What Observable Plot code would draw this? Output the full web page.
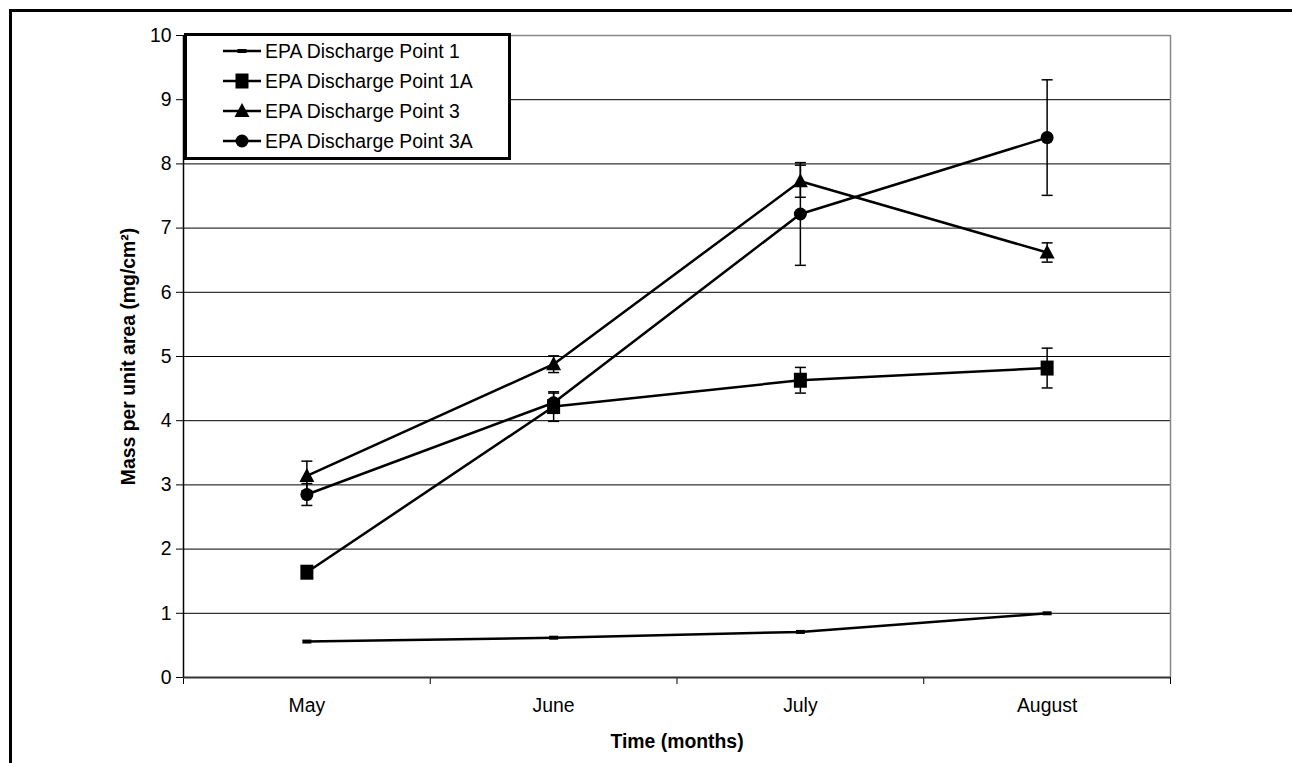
<!DOCTYPE html>
<html>
<head>
<meta charset="utf-8">
<script src="https://cdn.jsdelivr.net/npm/d3@7"></script>
<script src="https://cdn.jsdelivr.net/npm/@observablehq/plot@0.6"></script>
<style>
  body { margin: 0; background: #fff; font-family: "Liberation Sans", Arial, sans-serif; }
  #wrap { position: relative; width: 1292px; height: 763px; overflow: hidden; background: #fff; }
  #border { position: absolute; left: 9px; top: 9px; width: 1400px; height: 900px; border-top: 3px solid #000; border-left: 3px solid #000; pointer-events: none; }
  #chart { position: absolute; left: 0; top: 0; }
  #legend { position: absolute; left: 184px; top: 33px; width: 327px; height: 127px; box-sizing: border-box; border: 3px solid #000; background: #fff; }
  .row { height: 30px; display: flex; align-items: center; font-size: 19.4px; color: #000; }
  .row svg { margin-left: 36px; margin-right: 4px; }
</style>
</head>
<body>
<div id="wrap">
  <div id="chart"></div>
  <div id="legend"></div>
  <div id="border"></div>
</div>
<script>
// ---- data ----
const months = ["May", "June", "July", "August"];
const seriesNames = ["EPA Discharge Point 1", "EPA Discharge Point 1A", "EPA Discharge Point 3", "EPA Discharge Point 3A"];
const point1  = [0.56, 0.62, 0.71, 1.00];
const point1A = [1.64, 4.22, 4.63, 4.82];
const point3  = [3.14, 4.88, 7.73, 6.62];
const point3A = [2.85, 4.28, 7.22, 8.41];
const err1    = [0, 0, 0, 0];
const err1A   = [0.08, 0.23, 0.20, 0.31];
const err3    = [0.23, 0.13, 0.25, 0.15];
const err3A   = [0.17, 0.15, 0.80, 0.90];
const yTicks  = [0, 1, 2, 3, 4, 5, 6, 7, 8, 9, 10];

// ---- symbols ----
const dashSym = { draw(c) { c.rect(-4.5, -2, 9, 4); } };
const squareSym = { draw(c) { c.rect(-6.5, -7.5, 13, 15); } };
const triSym = { draw(c) { c.moveTo(0, -8); c.lineTo(7.5, 6); c.lineTo(-7.5, 6); c.closePath(); } };
const circleSym = { draw(c) { c.moveTo(6.5, 0); c.arc(0, 0, 6.5, 0, 2 * Math.PI); } };
const capSym = { draw(c) { c.moveTo(-5.5, 0); c.lineTo(5.5, 0); } };
const symbols = [dashSym, squareSym, triSym, circleSym];

const values = [point1, point1A, point3, point3A];
const errors = [err1, err1A, err3, err3A];
const rows = [];
seriesNames.forEach((name, s) => months.forEach((m, i) => {
  rows.push({ series: name, s, month: m, x: i + 0.5, y: values[s][i], e: errors[s][i] });
}));
const withErr = rows.filter(d => d.e > 0);

const chart = Plot.plot({
  width: 1292, height: 763,
  marginLeft: 183, marginRight: 122, marginTop: 35, marginBottom: 86,
  x: { domain: [0, months.length] },
  y: { domain: [0, 10] },
  style: { fontFamily: "Liberation Sans, Arial, sans-serif", fontSize: "19.4px", background: "transparent", color: "#000", overflow: "visible" },
  marks: [
    Plot.ruleY(yTicks.filter(v => v > 0 && v < 10), { stroke: "#000", strokeWidth: 1 }),
    Plot.ruleY([10], { stroke: "#888", strokeWidth: 1.5 }),
    Plot.ruleX([months.length], { stroke: "#888", strokeWidth: 1.5 }),
    Plot.axisY({ ticks: yTicks, tickSize: 7, tickPadding: 5, label: null, fontSize: 19.4, tickFormat: d3.format("d") }),
    Plot.axisX({ ticks: d3.range(months.length + 1), tickSize: 7, tickFormat: () => "", label: null }),
    Plot.axisX({ ticks: months.map((m, i) => i + 0.5), tickSize: 0, tickPadding: 21, tickFormat: v => months[Math.round(v - 0.5)], label: null, fontSize: 19.4 }),
    Plot.ruleY([0], { stroke: "#333", strokeWidth: 2 }),
    Plot.ruleX([0], { stroke: "#000", strokeWidth: 1.5 }),
    Plot.line(rows, { x: "x", y: "y", z: "series", stroke: "#000", strokeWidth: 2.5 }),
    Plot.ruleX(withErr, { x: "x", y1: d => d.y - d.e, y2: d => d.y + d.e, stroke: "#000", strokeWidth: 1.5 }),
    Plot.dot(withErr, { x: "x", y: d => d.y - d.e, symbol: capSym, stroke: "#000", fill: "none", strokeWidth: 1.5 }),
    Plot.dot(withErr, { x: "x", y: d => d.y + d.e, symbol: capSym, stroke: "#000", fill: "none", strokeWidth: 1.5 }),
    ...seriesNames.map((n, s) => Plot.dot(rows.filter(d => d.s === s), { x: "x", y: "y", symbol: symbols[s], fill: "#000", stroke: "none" })),
    Plot.text(["Time (months)"], { frameAnchor: "bottom", dy: 64, lineAnchor: "middle", textAnchor: "middle", fontWeight: "bold", fontSize: 19.4 }),
    Plot.text(["Mass per unit area (mg/cm²)"], { frameAnchor: "left", dx: -55, rotate: -90, lineAnchor: "middle", textAnchor: "middle", fontWeight: "bold", fontSize: 19.4 })
  ]
});
document.getElementById("chart").appendChild(chart);

// ---- legend ----
const legend = document.getElementById("legend");
seriesNames.forEach((name, s) => {
  const row = document.createElement("div");
  row.className = "row";
  const svg = d3.create("svg").attr("width", 38).attr("height", 20);
  svg.append("line").attr("x1", 0).attr("x2", 38).attr("y1", 10).attr("y2", 10).attr("stroke", "#000").attr("stroke-width", 2.5);
  svg.append("path").attr("transform", "translate(19,10)").attr("d", d3.symbol(symbols[s])()).attr("fill", "#000");
  row.appendChild(svg.node());
  const span = document.createElement("span");
  span.textContent = name;
  row.appendChild(span);
  legend.appendChild(row);
});
</script>
</body>
</html>
